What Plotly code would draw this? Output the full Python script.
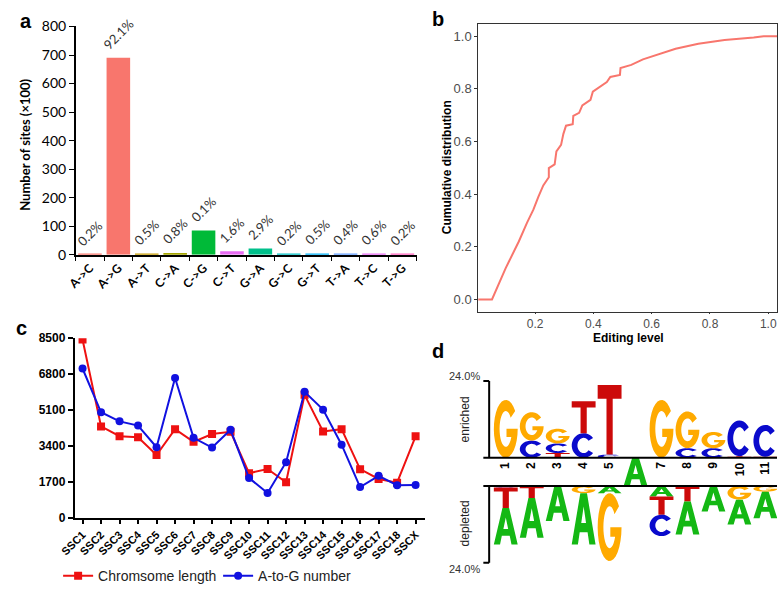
import numpy as np
import plotly.graph_objects as go

W, H = 778, 593

# ---------------- panel a data ----------------
sub_types = ["A->C", "A->G", "A->T", "C->A", "C->G", "C->T",
             "G->A", "G->C", "G->T", "T->A", "T->C", "T->G"]
site_counts = [1.5, 690, 3.7, 6, 85, 12, 21.7, 1.5, 3.7, 3, 4.5, 1.5]
pct_labels = ["0.2%", "92.1%", "0.5%", "0.8%", "0.1%", "1.6%",
              "2.9%", "0.2%", "0.5%", "0.4%", "0.6%", "0.2%"]
bar_colors = ["#F8766D", "#F8766D", "#C49A00", "#A3A500", "#00BA38", "#E76BF3",
              "#00C08B", "#00BFC4", "#00B0F6", "#619CFF", "#E76BF3", "#FF62BC"]

# ---------------- panel b data ----------------
edit_level = [0.004, 0.052, 0.099, 0.144, 0.172, 0.194, 0.211, 0.228, 0.247, 0.247,
              0.267, 0.273, 0.289, 0.297, 0.306, 0.329, 0.331, 0.351, 0.362, 0.390,
              0.398, 0.424, 0.446, 0.458, 0.491, 0.493, 0.530, 0.570, 0.626, 0.682,
              0.760, 0.850, 0.950, 0.984, 1.030]
cum_dist = [0.0, 0.0, 0.119, 0.22, 0.291, 0.341, 0.39, 0.433, 0.464, 0.499,
            0.513, 0.562, 0.587, 0.629, 0.660, 0.666, 0.697, 0.709, 0.737, 0.758,
            0.789, 0.808, 0.826, 0.845, 0.853, 0.879, 0.891, 0.912, 0.933, 0.952,
            0.971, 0.986, 0.995, 1.0, 1.0]

# ---------------- panel c data ----------------
chroms = ["SSC1", "SSC2", "SSC3", "SSC4", "SSC5", "SSC6", "SSC7", "SSC8", "SSC9",
          "SSC10", "SSC11", "SSC12", "SSC13", "SSC14", "SSC15", "SSC16", "SSC17",
          "SSC18", "SSCX"]
chrom_length = [8440, 4330, 3870, 3820, 2980, 4200, 3600, 3970, 4080, 2120,
                2315, 1690, 5825, 4090, 4200, 2310, 1845, 1670, 3860]
ag_number = [7070, 5000, 4570, 4370, 3345, 6625, 3790, 3330, 4170, 1890,
             1180, 2640, 5965, 5125, 3465, 1460, 1995, 1550, 1560]
c_ticks = [0, 1700, 3400, 5100, 6800, 8500]

# ---------------- panel d data ----------------
positions = [1, 2, 3, 4, 5, 6, 7, 8, 9, 10, 11]
enriched = {
    1: [("G", 18.1)],
    2: [("C", 5.4), ("G", 8.9)],
    3: [("T", 1.5), ("C", 3.0), ("G", 4.6)],
    4: [("C", 7.7), ("T", 10.0)],
    5: [("C", 1.0), ("T", 21.8)],
    6: [],
    7: [("G", 18.1)],
    8: [("C", 3.0), ("G", 11.5)],
    9: [("C", 3.0), ("G", 5.1)],
    10: [("T", 0.5), ("C", 11.2)],
    11: [("T", 0.3), ("C", 10.0)],
}
depleted = {
    1: [("C", 0.5), ("T", 6.4), ("A", 11.4)],
    2: [("T", 3.8), ("A", 12.4)],
    3: [("A", 11.0)],
    4: [("G", 2.3), ("A", 16.0)],
    5: [("A", 2.3), ("G", 21.2)],
    6: [],
    7: [("A", 3.3), ("T", 5.7), ("C", 6.7)],
    8: [("T", 4.9), ("A", 10.3)],
    9: [("A", 8.0)],
    10: [("G", 4.3), ("A", 7.8)],
    11: [("G", 1.8), ("A", 8.3)],
}
center_pos, center_letter = 6, "A"
scale_max = 24.0
gap = 8.8
letter_colors = {"A": "#14B814", "C": "#0A0ACC", "G": "#FFAA00", "T": "#CC0A0A"}


def dx(px):
    return px / W


def dy(px):
    return 1 - px / H


# ---------- glyph templates (unit box) ----------
def arc(a0, a1, rx, ry, n=28):
    t = np.radians(np.linspace(a0, a1, n))
    return list(zip(0.5 + rx * np.cos(t), 0.5 + ry * np.sin(t)))


GLYPHS = {
    "A": [[(0, 0), (0.36, 1), (0.64, 1), (1, 0), (0.74, 0), (0.665, 0.24),
           (0.335, 0.24), (0.26, 0)],
          [(0.40, 0.42), (0.60, 0.42), (0.5, 0.74)]],
    "T": [[(0, 1), (1, 1), (1, 0.8), (0.63, 0.8), (0.63, 0), (0.37, 0),
           (0.37, 0.8), (0, 0.8)]],
    "C": [arc(38, 322, 0.5, 0.5) + arc(322, 38, 0.26, 0.31)],
    "G": [arc(38, 360, 0.5, 0.5) + [(0.53, 0.5), (0.53, 0.36), (0.73, 0.36)]
          + arc(332, 38, 0.26, 0.31)],
}


def glyph_path(letter, xc, width, y0, h):
    parts = []
    for poly in GLYPHS[letter]:
        pts = [(xc - width / 2 + u * width, y0 + v * h) for u, v in poly]
        parts.append("M " + " L ".join(f"{x:.4f},{y:.4f}" for x, y in pts) + " Z")
    return " ".join(parts)


fig = go.Figure()

# ---------------- panel a ----------------
fig.add_trace(go.Bar(x=sub_types, y=site_counts, marker_color=bar_colors,
                     marker_line_width=0, width=0.83, showlegend=False,
                     xaxis="x", yaxis="y"))

# ---------------- panel b ----------------
fig.add_trace(go.Scatter(x=edit_level, y=cum_dist, mode="lines",
                         line=dict(color="#F8766D", width=2), showlegend=False,
                         xaxis="x2", yaxis="y2"))

# ---------------- panel c ----------------
fig.add_trace(go.Scatter(x=chroms, y=chrom_length, mode="lines+markers",
                         name="Chromsome length",
                         line=dict(color="#EE1111", width=2),
                         marker=dict(symbol="square", size=8, color="#EE1111"),
                         xaxis="x3", yaxis="y3"))
fig.add_trace(go.Scatter(x=chroms, y=ag_number, mode="lines+markers",
                         name="A-to-G number",
                         line=dict(color="#1111E0", width=2),
                         marker=dict(symbol="circle", size=8, color="#1111E0"),
                         xaxis="x3", yaxis="y3"))

# ---------------- panel d shapes ----------------
shapes = []
lw = 0.92
for p in positions:
    base = 0.0
    for letter, h in enriched[p]:
        shapes.append(dict(type="path", xref="x4", yref="y4",
                           path=glyph_path(letter, p, lw, base, h),
                           fillcolor=letter_colors[letter], line_width=0,
                           fillrule="evenodd", layer="above"))
        base += h
    base = -gap
    for letter, h in depleted[p]:
        shapes.append(dict(type="path", xref="x4", yref="y4",
                           path=glyph_path(letter, p, lw, base - h, h),
                           fillcolor=letter_colors[letter], line_width=0,
                           fillrule="evenodd", layer="above"))
        base -= h
shapes.append(dict(type="path", xref="x4", yref="y4",
                   path=glyph_path(center_letter, center_pos, lw, -gap, gap),
                   fillcolor=letter_colors[center_letter], line_width=0,
                   fillrule="evenodd", layer="above"))

xl, xb, xr = 0.13, 0.36, 11.45
blk = dict(color="black", width=2)
shapes += [
    dict(type="line", xref="x4", yref="y4", x0=xl, x1=xr, y0=0, y1=0, line=blk),
    dict(type="line", xref="x4", yref="y4", x0=xb, x1=xb, y0=0, y1=scale_max, line=blk),
    dict(type="line", xref="x4", yref="y4", x0=xl, x1=xb, y0=scale_max, y1=scale_max, line=blk),
    dict(type="line", xref="x4", yref="y4", x0=xl, x1=xr, y0=-gap, y1=-gap, line=blk),
    dict(type="line", xref="x4", yref="y4", x0=xb, x1=xb, y0=-gap, y1=-gap - scale_max, line=blk),
    dict(type="line", xref="x4", yref="y4", x0=xl, x1=xb, y0=-gap - scale_max,
         y1=-gap - scale_max, line=blk),
]

ann = []
# bar labels
for cat, v, lab in zip(sub_types, site_counts, pct_labels):
    ann.append(dict(x=cat, y=v, xref="x", yref="y", text=lab, showarrow=False,
                    textangle=-45, yanchor="bottom", xanchor="center", yshift=3,
                    font=dict(family="Lato, Liberation Sans", size=13, color="#333")))
# position numbers in d
for p in positions:
    if p == center_pos:
        continue
    ann.append(dict(x=p, y=0, xref="x4", yref="y4", text=str(p), showarrow=False,
                    textangle=-90, yanchor="top", xanchor="center", yshift=-2,
                    font=dict(family="Liberation Sans", size=12, color="black", weight="bold")))

txt = dict(family="Liberation Sans", size=12, color="black")
ann += [
    dict(x=dx(2), y=dy(12), xref="paper", yref="paper", text="<b>a</b>", showarrow=False,
         xanchor="left", yanchor="middle", font=dict(family="Liberation Sans", size=20, color="black")),
    dict(x=dx(431), y=dy(10), xref="paper", yref="paper", text="<b>b</b>", showarrow=False,
         xanchor="center", yanchor="middle", font=dict(family="Liberation Sans", size=20, color="black")),
    dict(x=dx(6), y=dy(328), xref="paper", yref="paper", text="<b>c</b>", showarrow=False,
         xanchor="center", yanchor="middle", font=dict(family="Liberation Sans", size=20, color="black")),
    dict(x=dx(431), y=dy(352), xref="paper", yref="paper", text="<b>d</b>", showarrow=False,
         xanchor="center", yanchor="middle", font=dict(family="Liberation Sans", size=20, color="black")),
    dict(x=dx(9), y=dy(140), xref="paper", yref="paper", text="<b>Number of sites (×100)</b>",
         showarrow=False, textangle=-90, xanchor="center", yanchor="middle",
         font=dict(family="Lato, Liberation Sans", size=13, color="black")),
    dict(x=dx(440), y=dy(163), xref="paper", yref="paper", text="<b>Cumulative distribution</b>",
         showarrow=False, textangle=-90, xanchor="center", yanchor="middle", font=txt),
    dict(x=dx(625), y=dy(339), xref="paper", yref="paper", text="<b>Editing level</b>",
         showarrow=False, xanchor="center", yanchor="middle", font=txt),
    dict(x=dx(458), y=dy(378), xref="paper", yref="paper", text="24.0%",
         showarrow=False, xanchor="center", yanchor="middle",
         font=dict(family="Liberation Sans", size=11, color="#333")),
    dict(x=dx(458), y=dy(577), xref="paper", yref="paper", text="24.0%",
         showarrow=False, xanchor="center", yanchor="middle",
         font=dict(family="Liberation Sans", size=11, color="#333")),
    dict(x=dx(458), y=dy(423), xref="paper", yref="paper", text="enriched",
         showarrow=False, textangle=-90, xanchor="center", yanchor="middle",
         font=dict(family="Liberation Sans", size=12, color="#222")),
    dict(x=dx(458), y=dy(530), xref="paper", yref="paper", text="depleted",
         showarrow=False, textangle=-90, xanchor="center", yanchor="middle",
         font=dict(family="Liberation Sans", size=12, color="#222")),
]

fig.update_layout(
    width=W, height=H, margin=dict(l=0, r=0, t=0, b=0),
    paper_bgcolor="white", plot_bgcolor="rgba(0,0,0,0)",
    font=dict(family="Liberation Sans", color="black"),
    shapes=shapes, annotations=ann,
    showlegend=True,
    legend=dict(orientation="h", x=dx(43), y=dy(584), xanchor="left", yanchor="middle",
                font=dict(family="Liberation Sans", size=14, color="#222"),
                itemwidth=30, entrywidth=115, entrywidthmode="pixels",
                bgcolor="rgba(0,0,0,0)"),
    # panel a
    xaxis=dict(domain=[dx(61), dx(409)], anchor="y", type="category",
               categoryorder="array", categoryarray=sub_types, range=[-0.5, 11.5],
               showline=True, linecolor="black", linewidth=1.5, ticks="outside",
               ticklen=5, tickcolor="black", tickson="boundaries", tickangle=-45,
               tickfont=dict(family="Lato, Liberation Sans", size=12, weight="bold"),
               showgrid=False, zeroline=False),
    yaxis=dict(domain=[dy(253), dy(18)], anchor="x", range=[0, 800], dtick=100,
               showline=True, linecolor="black", linewidth=1.5, ticks="outside",
               ticklen=5, tickcolor="black",
               tickfont=dict(family="Lato, Liberation Sans", size=14),
               showgrid=False, zeroline=False),
    # panel b
    xaxis2=dict(domain=[dx(472), dx(777)], anchor="y2", range=[0.005, 1.03],
                tickvals=[0.2, 0.4, 0.6, 0.8, 1.0], tickformat=".1f",
                showline=True, mirror=True, linecolor="#333", linewidth=1,
                ticks="outside", ticklen=1, tickcolor="#333",
                tickfont=dict(size=12, color="#4D4D4D"), showgrid=False, zeroline=False),
    yaxis2=dict(domain=[dy(312), dy(15)], anchor="x2", range=[-0.048, 1.048],
                tickvals=[0, 0.2, 0.4, 0.6, 0.8, 1.0], tickformat=".1f",
                showline=True, mirror=True, linecolor="#333", linewidth=1,
                ticks="outside", ticklen=3, tickcolor="#333",
                tickfont=dict(size=13, color="#4D4D4D"), showgrid=False, zeroline=False),
    # panel c
    xaxis3=dict(domain=[dx(60), dx(418)], anchor="y3", type="category",
                categoryorder="array", categoryarray=chroms, range=[-0.42, 18.53],
                showline=True, linecolor="black", linewidth=2, ticks="outside",
                ticklen=4, tickwidth=2, tickcolor="black", tickangle=-45,
                tickfont=dict(size=11, weight="bold"), showgrid=False, zeroline=False),
    yaxis3=dict(domain=[dy(524), dy(339)], anchor="x3", range=[0, 8500],
                tickvals=c_ticks, showline=True, linecolor="black", linewidth=2,
                ticks="outside", ticklen=5, tickwidth=2, tickcolor="black",
                tickfont=dict(size=12, weight="bold"), showgrid=False, zeroline=False),
    # panel d
    xaxis4=dict(domain=[dx(477), dx(777)], anchor="y4", range=[0.13, 11.45], visible=False),
    yaxis4=dict(domain=[dy(580.5), dy(369.9)], anchor="x4", range=[-36, 28], visible=False),
)

fig.write_html("out.html", config={"displayModeBar": False},
               post_script="document.body.style.margin='0';document.body.style.overflow='hidden';")
